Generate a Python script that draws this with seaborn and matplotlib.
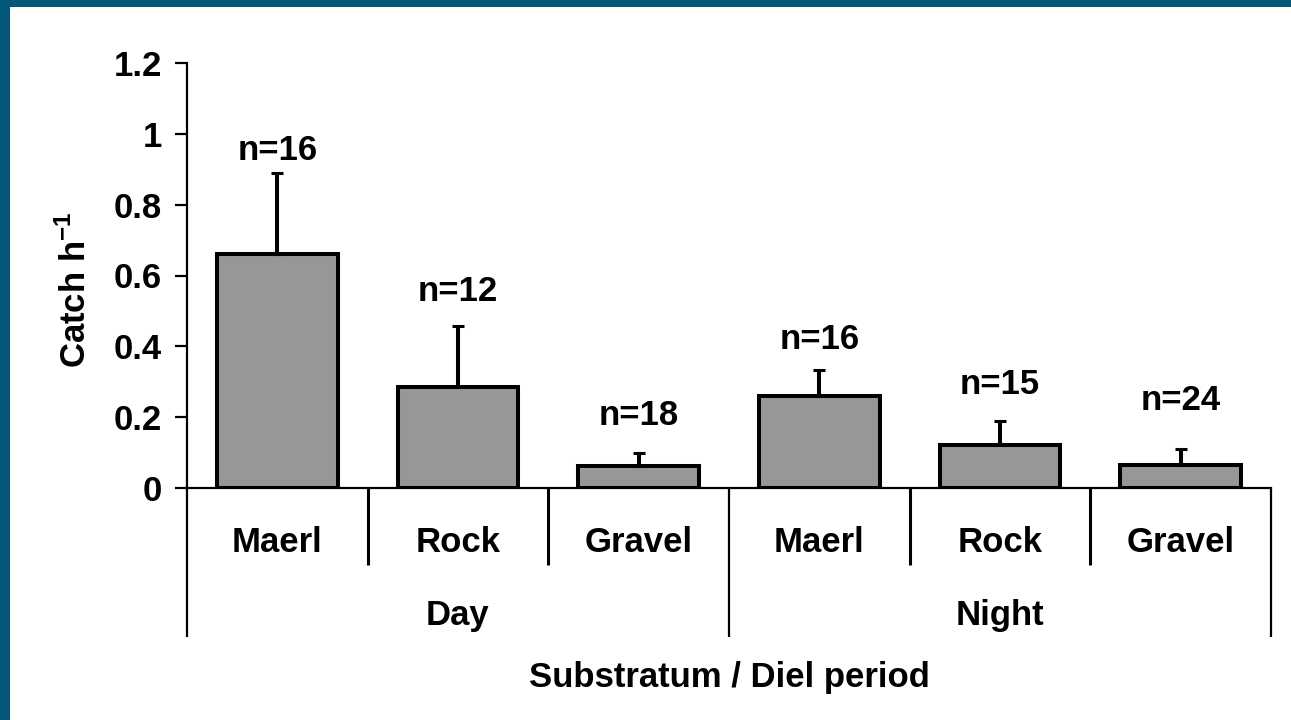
import matplotlib
matplotlib.use('Agg')
import matplotlib.pyplot as plt
import seaborn as sns
import pandas as pd
from matplotlib.patches import Rectangle
from matplotlib.transforms import blended_transform_factory

# ---- data ----
periods = ['Day', 'Night']
substrata = ['Maerl', 'Rock', 'Gravel']
means = [0.66, 0.286, 0.063, 0.26, 0.121, 0.065]
err_upper = [0.23, 0.171, 0.037, 0.073, 0.069, 0.045]
n_labels = ['n=16', 'n=12', 'n=18', 'n=16', 'n=15', 'n=24']
label_y = [0.954, 0.554, 0.206, 0.418, 0.291, 0.248]
yticks = [0, 0.2, 0.4, 0.6, 0.8, 1, 1.2]
ytick_labels = ['0', '0.2', '0.4', '0.6', '0.8', '1', '1.2']

sns.set_theme(style='white')
plt.rcParams['font.family'] = ['Liberation Sans', 'DejaVu Sans']
plt.rcParams['font.weight'] = 'bold'
plt.rcParams['mathtext.fontset'] = 'custom'
plt.rcParams['mathtext.rm'] = 'Liberation Sans:bold'
plt.rcParams['mathtext.bf'] = 'Liberation Sans:bold'

FS = 25
BAR = '#969895'
TEAL = '#03587a'

df = pd.DataFrame({
    'group': [f'{p} {s}' for p in periods for s in substrata],
    'mean': means,
})

fig = plt.figure(figsize=(12.91, 7.2), dpi=100)
fig.patch.set_facecolor('white')
# teal frame (left and top strips)
fig.patches.append(Rectangle((0, 0), 10 / 1291, 1, transform=fig.transFigure,
                             facecolor=TEAL, edgecolor='none', zorder=0))
fig.patches.append(Rectangle((0, 1 - 7 / 720), 1, 7 / 720, transform=fig.transFigure,
                             facecolor=TEAL, edgecolor='none', zorder=0))

ax = fig.add_axes([187 / 1291, 1 - 488 / 720, (1271 - 187) / 1291, (488 - 63) / 720])

sns.barplot(data=df, x='group', y='mean', order=list(df['group']), color=BAR,
            saturation=1, width=1 / 1.5, edgecolor='black', linewidth=2.9,
            errorbar=None, ax=ax, zorder=2)

xs = list(range(len(means)))
ax.errorbar(xs, means, yerr=[[0] * len(means), err_upper], fmt='none',
            ecolor='black', elinewidth=2.9, capsize=4.3, capthick=2.2, zorder=3)

for x, lab, ly in zip(xs, n_labels, label_y):
    ax.text(x, ly, lab, ha='center', va='center', fontsize=FS, fontweight='bold',
            color='black')

ax.set_xlim(-0.5, len(means) - 0.5)
ax.set_ylim(0, 1.2)
ax.set_yticks(yticks)
ax.set_yticklabels(ytick_labels, fontsize=FS, fontweight='bold')
ax.tick_params(axis='y', length=9, width=1.6, pad=9, colors='black', direction='out', left=True)
ax.set_xticks([])
ax.set_xlabel('')
ax.set_ylabel('')

for s in ['top', 'right']:
    ax.spines[s].set_visible(False)
for s in ['left', 'bottom']:
    ax.spines[s].set_color('black')
    ax.spines[s].set_linewidth(1.6)

trans = blended_transform_factory(ax.transData, ax.transAxes)
# separators
n = len(means)
for i in range(n + 1):
    xsep = i - 0.5
    long_sep = (i % 3 == 0)
    ybot = -0.35 if long_sep else -0.181
    ax.plot([xsep, xsep], [0, ybot], transform=trans, color='black',
            lw=1.6 if long_sep else 2.2, clip_on=False, solid_capstyle='butt')

# category labels
for i, lab in enumerate(substrata * len(periods)):
    ax.text(i, -0.129, lab, transform=trans, ha='center', va='center',
            fontsize=FS, fontweight='bold', color='black')
# period labels
for j, p in enumerate(periods):
    ax.text(j * 3 + 1, -0.299, p, transform=trans, ha='center', va='center',
            fontsize=FS, fontweight='bold', color='black')

ax.text(0.5, -0.447, 'Substratum / Diel period', transform=ax.transAxes,
        ha='center', va='center', fontsize=FS, fontweight='bold', color='black')
ax.text(-0.103, 0.466, r'Catch h$^{\mathbf{-1}}$', transform=ax.transAxes,
        ha='center', va='center', rotation=90, fontsize=FS, fontweight='bold',
        color='black')

fig.savefig('out.png', dpi=100)
